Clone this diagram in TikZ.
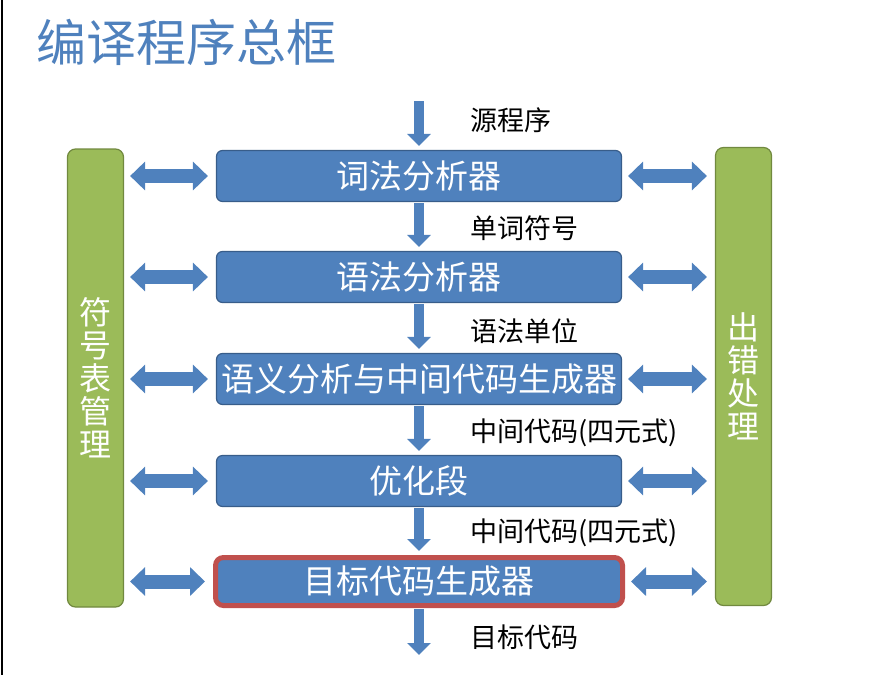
\documentclass[tikz,border=0pt]{standalone}
\usepackage{fontspec}
\setmainfont{Noto Sans CJK SC}
\usetikzlibrary{arrows.meta}

\definecolor{boxblue}{HTML}{4F81BD}
\definecolor{boxedge}{HTML}{385D8A}
\definecolor{bargreen}{HTML}{9BBB59}
\definecolor{baredge}{HTML}{71893F}
\definecolor{markred}{HTML}{C0504D}

\tikzset{
  stage/.style={fill=boxblue, draw=boxedge, line width=1.2pt, rounded corners=6pt,
    minimum width=405pt, minimum height=51pt, inner sep=0pt, text=white,
    font=\fontsize{33}{33}\selectfont},
  sidebar/.style={fill=bargreen, draw=baredge, line width=1.2pt, rounded corners=8pt,
    minimum width=56pt, minimum height=458pt, inner sep=0pt, text=white, align=center,
    font=\fontsize{32}{33}\selectfont},
  flow/.style={draw=boxblue, line width=10pt, -{Triangle[width=23pt,length=12pt]},
    shorten <=1pt, shorten >=4pt},
  both/.style={draw=boxblue, line width=14pt,
    {Triangle[width=28pt,length=15pt]}-{Triangle[width=28pt,length=15pt]},
    shorten <=6pt, shorten >=8pt},
  lbl/.style={anchor=west, inner sep=0pt, font=\fontsize{27}{27}\selectfont},
}

\begin{document}
\begin{tikzpicture}[x=1pt, y=-1pt]
       \useasboundingbox (0,0) rectangle (875,675);
       \draw[line width=2.5pt] (2,0) -- (2,675);

       \node(title)[anchor=west, inner sep=0pt, text=boxblue, font=\fontsize{50}{50}\selectfont] at (36,42) {编译程序总框};

       % the five stages
       \node(lex)[stage] at (419,176) {词法分析器};
       \node(syn)[stage] at (419,277) {语法分析器};
       \node(sem)[stage] at (419,379) {语义分析与中间代码生成器};
       \node(opt)[stage] at (419,481) {优化段};
       \node(gen)[stage, draw=markred, line width=5pt, rounded corners=8pt, minimum width=407pt, minimum height=48pt] at (419,581.5) {目标代码生成器};

       % side bars
       \node(sym)[sidebar] at (95.5,378) {符\\号\\表\\管\\理};
       \node(err)[sidebar] at (743.5,376.5) {出\\错\\处\\理};

       % flow down the middle
       \coordinate(src) at (419,100);
       \coordinate(out) at (419,659);
       \draw[flow] (src) -- (lex.north);
       \draw[flow] (lex.south) -- (syn.north);
       \draw[flow] (syn.south) -- (sem.north);
       \draw[flow] (sem.south) -- (opt.north);
       \draw[flow] (opt.south) -- (gen.north);
       \draw[flow] (gen.south) -- (out);

       \node(Lsrc)[lbl] at (470,120) {源程序};
       \node(Ltok)[lbl] at (470,228) {单词符号};
       \node(Lsyn)[lbl] at (470,331) {语法单位};
       \node(Lmid)[lbl] at (470,433) {中间代码(四元式)};
       \node(Lmid2)[lbl] at (470,533) {中间代码(四元式)};
       \node(Lout)[lbl] at (470,637) {目标代码};

       % links to the side bars
       \foreach \s in {lex,syn,sem,opt,gen} {
         \draw[both] (sym.east |- \s) -- (\s.west);
         \draw[both] (\s.east) -- (err.west |- \s);
       }
\end{tikzpicture}
\end{document}
